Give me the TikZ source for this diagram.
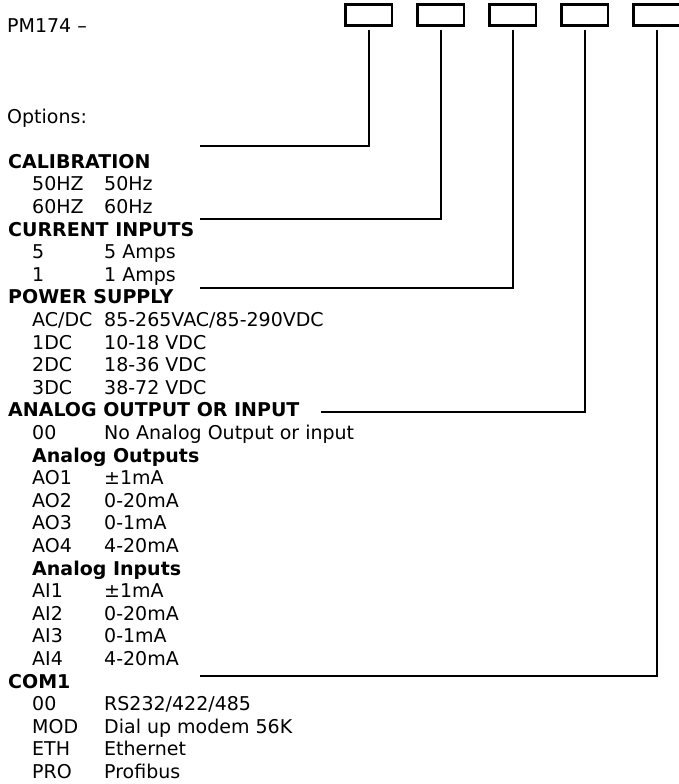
\documentclass[tikz,border=0pt]{standalone}
\usepackage{fontspec}
\setmainfont{DejaVu Sans}
\usepackage{tikz}
\newcommand{\optsize}{\fontsize{19}{22}\selectfont}
\newcommand{\opt}[2]{\makebox[72pt][l]{#1}#2}
\tikzset{
  codebox/.style={rectangle, draw=black, line width=2.4pt,
    minimum width=46.6pt, minimum height=21pt, inner sep=0pt},
  hdr/.style={anchor=base west, inner sep=0pt, font=\optsize\bfseries},
  item/.style={anchor=base west, inner sep=0pt, font=\optsize},
  leader/.style={line width=2pt, color=black}
}

\begin{document}
\begin{tikzpicture}[x=1pt, y=-1pt]
  \useasboundingbox (0,0) rectangle (679,784);

  % Code boxes
  \node[codebox] (cal) at (368.6,15) {};
  \node[codebox] (cur) at (440.6,15) {};
  \node[codebox] (pwr) at (512.6,15) {};
  \node[codebox] (ana) at (584.6,15) {};
  \node[codebox] (com) at (656.6,15) {};

  % Title
  \node[item] (title) at (7,32.7) {PM174 –};
  \node[item] (opts) at (7,123.1) {Options:};

  % Calibration
  \node[hdr] (calhdr) at (8,168.3) {CALIBRATION};
  \node[item] (cal50) at (32,190.9) {\opt{50HZ}{50Hz}};
  \node[item] (cal60) at (32,213.5) {\opt{60HZ}{60Hz}};

  % Current inputs
  \node[hdr] (curhdr) at (8,236.1) {CURRENT INPUTS};
  \node[item] (cur5) at (32,258.7) {\opt{5}{5 Amps}};
  \node[item] (cur1) at (32,281.3) {\opt{1}{1 Amps}};

  % Power supply
  \node[hdr] (pwrhdr) at (8,303.9) {POWER SUPPLY};
  \node[item] (pwrac) at (32,326.5) {\opt{AC/DC}{85-265VAC/85-290VDC}};
  \node[item] (pwr1) at (32,349.1) {\opt{1DC}{10-18 VDC}};
  \node[item] (pwr2) at (32,371.7) {\opt{2DC}{18-36 VDC}};
  \node[item] (pwr3) at (32,394.3) {\opt{3DC}{38-72 VDC}};

  % Analog output or input
  \node[hdr] (anahdr) at (8,416.9) {ANALOG OUTPUT OR INPUT};
  \node[item] (ana00) at (32,439.5) {\opt{00}{No Analog Output or input}};
  \node[hdr] (aohdr) at (32,462.1) {Analog Outputs};
  \node[item] (ao1) at (32,484.7) {\opt{AO1}{±1mA}};
  \node[item] (ao2) at (32,507.3) {\opt{AO2}{0-20mA}};
  \node[item] (ao3) at (32,529.9) {\opt{AO3}{0-1mA}};
  \node[item] (ao4) at (32,552.5) {\opt{AO4}{4-20mA}};
  \node[hdr] (aihdr) at (32,575.1) {Analog Inputs};
  \node[item] (ai1) at (32,597.7) {\opt{AI1}{±1mA}};
  \node[item] (ai2) at (32,620.3) {\opt{AI2}{0-20mA}};
  \node[item] (ai3) at (32,642.9) {\opt{AI3}{0-1mA}};
  \node[item] (ai4) at (32,665.5) {\opt{AI4}{4-20mA}};

  % COM1
  \node[hdr] (comhdr) at (8,688.1) {COM1};
  \node[item] (com00) at (32,710.7) {\opt{00}{RS232/422/485}};
  \node[item] (commod) at (32,733.3) {\opt{MOD}{Dial up modem 56K}};
  \node[item] (cometh) at (32,755.9) {\opt{ETH}{Ethernet}};
  \node[item] (compro) at (32,778.5) {\opt{PRO}{Profibus}};

  % Leaders
  \coordinate (calend) at (200,146);
  \coordinate (curend) at (200,219);
  \coordinate (pwrend) at (200,288);
  \coordinate (anaend) at (321,411.5);
  \coordinate (comend) at (200,675.5);
  \draw[leader] ([yshift=-3pt]cal.south) |- (calend);
  \draw[leader] ([yshift=-3pt]cur.south) |- (curend);
  \draw[leader] ([yshift=-3pt]pwr.south) |- (pwrend);
  \draw[leader] ([yshift=-3pt]ana.south) |- (anaend);
  \draw[leader] ([yshift=-3pt]com.south) |- (comend);
\end{tikzpicture}
\end{document}
